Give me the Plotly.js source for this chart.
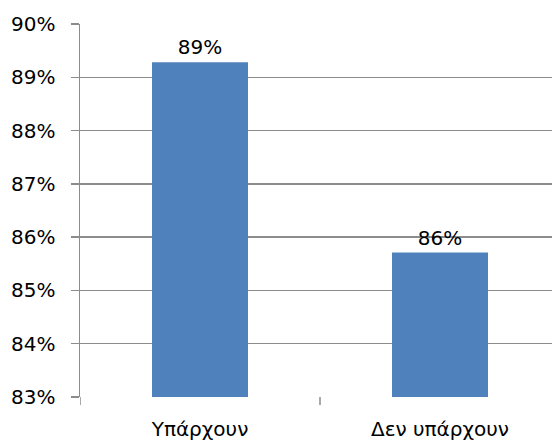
<!DOCTYPE html>
<html><head><meta charset="utf-8">
<script src="https://cdn.plot.ly/plotly-3.0.1.min.js"></script>
<style>html,body{margin:0;padding:0;background:#fff}</style>
</head><body>
<div id="chart" style="width:552px;height:445px"></div>
<script>
var categories = ["Υπάρχουν", "Δεν υπάρχουν"];
var values = [89.28, 85.71];
var yTicks = [83, 84, 85, 86, 87, 88, 89, 90];
var yTickLabels = ["83%", "84%", "85%", "86%", "87%", "88%", "89%", "90%"];

var grey = "#8c8c8c";
var fontFam = "DejaVu Sans, Verdana, sans-serif";
var trace = {
  type: "bar",
  x: [0, 1],
  y: values,
  width: 0.4,
  marker: {color: "#4F81BD"},
  text: values.map(function(v){ return Math.round(v) + "%"; }),
  textposition: "outside",
  textfont: {family: fontFam, size: 20, color: "#000"},
  cliponaxis: false,
  hoverinfo: "none"
};
var layout = {
  width: 552, height: 445,
  margin: {l: 80, r: 0, t: 24, b: 48},
  paper_bgcolor: "#fff", plot_bgcolor: "#fff",
  showlegend: false,
  font: {family: fontFam, size: 20, color: "#000"},
  xaxis: {
    range: [-0.5, 1.4667],
    tickvals: [0, 1],
    ticktext: categories,
    ticks: "",
    ticklabelstandoff: 18,
    showgrid: false,
    showline: false,
    zeroline: false,
    fixedrange: true
  },
  yaxis: {
    range: [83, 90],
    tickvals: yTicks,
    ticktext: yTickLabels,
    ticks: "outside",
    ticklen: 8,
    tickcolor: grey,
    tickwidth: 1.5,
    ticklabelstandoff: 11,
    showgrid: true,
    gridcolor: grey,
    gridwidth: 1.5,
    showline: true,
    linecolor: grey,
    linewidth: 1.5,
    zeroline: false,
    fixedrange: true
  },
  shapes: [
    {type: "line", xref: "x", yref: "paper", x0: -0.5, x1: -0.5, y0: 0, y1: -0.0215, line: {color: grey, width: 1.5}},
    {type: "line", xref: "x", yref: "paper", x0: 0.5, x1: 0.5, y0: 0, y1: -0.0215, line: {color: grey, width: 1.5}}
  ]
};
Plotly.newPlot("chart", [trace], layout, {displayModeBar: false, staticPlot: true});
</script>
</body></html>
